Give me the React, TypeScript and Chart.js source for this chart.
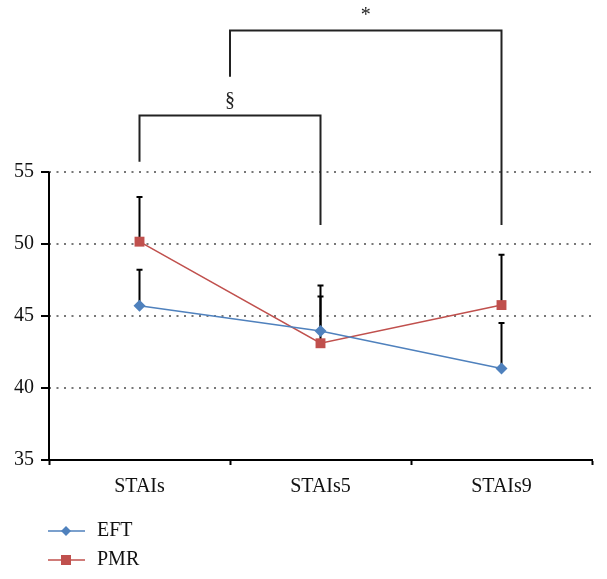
import React, { useEffect, useRef } from "react";
import { Chart, registerables } from "chart.js";

Chart.register(...registerables);

const categories = ["STAIs", "STAIs5", "STAIs9"];
const eftValues = [45.7, 43.95, 41.35];
const pmrValues = [50.15, 43.1, 45.75];
const eftErrorTop = [48.2, 46.35, 44.5];
const pmrErrorTop = [53.25, 47.1, 49.25];
const yTicks = [35, 40, 45, 50, 55];
// significance brackets
const bracketLeft = [0, 0.5];
const bracketRight = [1, 2];
const bracketLeftBottom = [55.7, 61.6];
const bracketTop = [58.9, 64.8];
const bracketRightBottom = [51.3, 51.3];
const bracketLabels = ["§", "*"];

const EFT_COLOR = "#4f81bd";
const PMR_COLOR = "#c0504d";
const FONT = "'Liberation Serif', 'DejaVu Serif', serif";

const overlayPlugin = {
  id: "overlay",
  beforeDatasetsDraw(chart: any) {
    const { ctx, scales } = chart;
    const x = scales.x;
    const y = scales.y;
    ctx.save();
    ctx.strokeStyle = "#000";
    ctx.lineWidth = 2;
    ctx.beginPath();
    ctx.moveTo(x.left, y.getPixelForValue(yTicks[0]) + 1);
    ctx.lineTo(x.left, y.getPixelForValue(yTicks[yTicks.length - 1]));
    ctx.stroke();
    const drawErr = (vals: number[], tops: number[]) => {
      vals.forEach((v, i) => {
        const px = x.getPixelForValue(i);
        const py0 = y.getPixelForValue(v);
        const py1 = y.getPixelForValue(tops[i]);
        ctx.beginPath();
        ctx.moveTo(px, py0);
        ctx.lineTo(px, py1);
        ctx.moveTo(px - 3, py1);
        ctx.lineTo(px + 3, py1);
        ctx.stroke();
      });
    };
    ctx.lineWidth = 2;
    drawErr(pmrValues, pmrErrorTop);
    drawErr(eftValues, eftErrorTop);
    ctx.lineWidth = 2;
    ctx.strokeStyle = "#222";
    ctx.fillStyle = "#222";
    ctx.font = `20px ${FONT}`;
    ctx.textAlign = "center";
    ctx.textBaseline = "bottom";
    bracketLeft.forEach((l, i) => {
      const lx = x.getPixelForValue(l);
      const rx = x.getPixelForValue(bracketRight[i]);
      const ty = y.getPixelForValue(bracketTop[i]);
      ctx.beginPath();
      ctx.moveTo(lx, y.getPixelForValue(bracketLeftBottom[i]));
      ctx.lineTo(lx, ty);
      ctx.lineTo(rx, ty);
      ctx.lineTo(rx, y.getPixelForValue(bracketRightBottom[i]));
      ctx.stroke();
      ctx.fillText(bracketLabels[i], (lx + rx) / 2, ty - 5);
    });
    ctx.restore();
  },
  afterDraw(chart: any) {
    const { ctx } = chart;
    ctx.save();
    const items = [
      { label: "EFT", color: EFT_COLOR, style: "diamond", y: 531 },
      { label: "PMR", color: PMR_COLOR, style: "square", y: 560 },
    ];
    ctx.font = `20px ${FONT}`;
    ctx.textBaseline = "middle";
    ctx.textAlign = "left";
    items.forEach((it) => {
      ctx.strokeStyle = it.color;
      ctx.lineWidth = 1.5;
      ctx.beginPath();
      ctx.moveTo(48, it.y);
      ctx.lineTo(85, it.y);
      ctx.stroke();
      ctx.fillStyle = it.color;
      if (it.style === "diamond") {
        ctx.beginPath();
        ctx.moveTo(66, it.y - 5);
        ctx.lineTo(71, it.y);
        ctx.lineTo(66, it.y + 5);
        ctx.lineTo(61, it.y);
        ctx.closePath();
        ctx.fill();
      } else {
        ctx.fillRect(61, it.y - 5, 10, 10);
      }
      ctx.fillStyle = "#111";
      ctx.fillText(it.label, 97, it.y);
    });
    ctx.restore();
  },
};

export default function App() {
  const ref = useRef<HTMLCanvasElement | null>(null);
  useEffect(() => {
    document.body.style.margin = "0";
    const chart = new Chart(ref.current as HTMLCanvasElement, {
      type: "line",
      data: {
        labels: categories,
        datasets: [
          {
            label: "EFT",
            data: eftValues,
            borderColor: EFT_COLOR,
            backgroundColor: EFT_COLOR,
            borderWidth: 1.5,
            pointStyle: "rectRot",
            pointRadius: 6,
            pointBorderWidth: 0,
            tension: 0,
          },
          {
            label: "PMR",
            data: pmrValues,
            borderColor: PMR_COLOR,
            backgroundColor: PMR_COLOR,
            borderWidth: 1.5,
            pointStyle: "rect",
            pointRadius: 7,
            pointBorderWidth: 0,
            tension: 0,
          },
        ],
      },
      options: {
        animation: false,
        responsive: false,
        layout: { padding: { top: 1, right: 15, bottom: 70, left: 0 } },
        plugins: { legend: { display: false }, tooltip: { enabled: false } },
        scales: {
          x: {
            offset: true,
            grid: {
              offset: true,
              drawOnChartArea: false,
              drawTicks: true,
              tickLength: 5,
              tickColor: "#000",
              tickWidth: 2,
            },
            border: { display: true, color: "#000", width: 2 },
            ticks: { color: "#111", font: { family: FONT, size: 20 }, padding: 10 },
          },
          y: {
            min: 35,
            max: 65.6,
            afterFit: (s: any) => {
              s.width = 49;
            },
            ticks: {
              stepSize: 5,
              color: "#111",
              font: { family: FONT, size: 20 },
              padding: 7,
              callback: (v: any) => (yTicks.includes(Number(v)) ? String(v) : ""),
            },
            grid: {
              color: (c: any) =>
                c.tick && c.tick.value > 35 && c.tick.value <= 55 ? "#777" : "rgba(0,0,0,0)",
              lineWidth: 2,
              tickColor: (c: any) =>
                c.tick && c.tick.value <= 55 ? "#000" : "rgba(0,0,0,0)",
              tickLength: 8,
              tickWidth: 2,
            },
            border: { display: false, dash: [2, 5.5] },
          },
        },
      },
      plugins: [overlayPlugin],
    });
    return () => chart.destroy();
  }, []);
  return <canvas ref={ref} width={607} height={579} style={{ display: "block" }} />;
}
